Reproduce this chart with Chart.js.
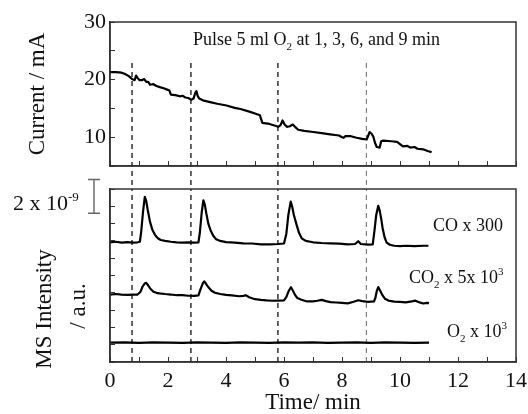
<!DOCTYPE html>
<html>
<head>
<meta charset="utf-8">
<script src="https://cdn.jsdelivr.net/npm/chart.js@4.4.1/dist/chart.umd.min.js"></script>
<style>
  body { margin: 0; background: #fff; }
  #wrap { position: relative; width: 528px; height: 414px; background: #fff; }
  canvas { position: absolute; left: 0; top: 0; }
</style>
</head>
<body>
<div id="wrap">
  <canvas id="topChart" width="528" height="414"></canvas>
  <canvas id="botChart" width="528" height="414"></canvas>
</div>
<script>
// Current trace (top panel), minutes / mA
const curTime = [0, 0.2, 0.4, 0.5, 0.65, 0.76, 0.85, 0.9, 0.95, 1.02, 1.1, 1.18, 1.25, 1.32, 1.38, 1.5, 1.6, 1.72, 1.85, 1.95, 2.05, 2.1, 2.25, 2.41, 2.5, 2.6, 2.7, 2.8, 2.88, 2.94, 2.98, 3.02, 3.08, 3.2, 3.45, 3.7, 4.02, 4.3, 4.5, 4.83, 5.0, 5.17, 5.22, 5.25, 5.5, 5.7, 5.8, 5.88, 5.95, 6.02, 6.1, 6.2, 6.3, 6.38, 6.49, 6.7, 7.01, 7.3, 7.59, 7.9, 8.0, 8.06, 8.12, 8.28, 8.5, 8.7, 8.85, 8.9, 8.95, 9.02, 9.08, 9.14, 9.2, 9.3, 9.35, 9.42, 9.7, 9.9, 10.0, 10.1, 10.25, 10.35, 10.5, 10.6, 10.8, 10.95, 11.09];
const curVal = [21.3, 21.3, 21.2, 21.0, 20.6, 20.1, 19.9, 20.7, 20.3, 19.9, 19.9, 20.1, 19.6, 19.6, 19.1, 19.2, 18.9, 18.7, 18.5, 18.3, 18.1, 17.4, 17.3, 17.1, 17.2, 16.9, 16.8, 16.5, 16.7, 17.7, 18.0, 17.2, 16.7, 16.4, 16.1, 15.8, 15.5, 15.1, 14.9, 14.4, 14.1, 13.8, 13.0, 12.5, 12.3, 12.0, 11.8, 12.1, 12.9, 12.2, 11.8, 11.9, 12.2, 11.8, 11.3, 11.1, 10.9, 10.7, 10.5, 10.3, 10.0, 9.9, 10.2, 10.2, 9.9, 9.7, 9.6, 10.2, 10.9, 10.6, 10.1, 9.0, 8.3, 8.2, 9.3, 9.4, 9.3, 9.2, 8.8, 8.4, 8.5, 8.2, 8.3, 8.0, 7.9, 7.6, 7.4];

// MS traces (bottom panel), arbitrary offset units
const coTime = [0, 0.2, 0.4, 0.6, 0.8, 0.95, 1.03, 1.08, 1.14, 1.2, 1.25, 1.3, 1.38, 1.46, 1.55, 1.65, 1.75, 1.9, 2.1, 2.3, 2.5, 2.7, 2.9, 3.05, 3.1, 3.16, 3.22, 3.27, 3.32, 3.39, 3.47, 3.56, 3.66, 3.8, 4.0, 4.3, 4.6, 4.9, 5.2, 5.5, 5.8, 6.0, 6.08, 6.15, 6.23, 6.28, 6.34, 6.44, 6.52, 6.61, 6.75, 7.0, 7.3, 7.6, 7.9, 8.2, 8.45, 8.56, 8.65, 8.9, 9.06, 9.12, 9.18, 9.25, 9.3, 9.35, 9.4, 9.47, 9.54, 9.65, 9.8, 10.0, 10.2, 10.5, 10.8, 10.98];
const coVal = [6.92, 6.95, 6.9, 6.93, 6.9, 6.92, 6.95, 7.6, 8.7, 9.55, 9.3, 8.8, 8.1, 7.65, 7.35, 7.15, 7.05, 7.0, 6.95, 6.92, 6.9, 6.92, 6.9, 6.92, 7.5, 8.6, 9.35, 9.1, 8.6, 8.0, 7.6, 7.3, 7.1, 7.0, 6.93, 6.9, 6.86, 6.85, 6.8, 6.8, 6.82, 6.85, 7.4, 8.5, 9.27, 9.0, 8.5, 7.9, 7.45, 7.15, 7.0, 6.92, 6.88, 6.86, 6.84, 6.8, 6.82, 6.98, 6.82, 6.78, 6.8, 7.6, 8.5, 9.03, 8.75, 8.3, 7.75, 7.2, 6.9, 6.78, 6.72, 6.7, 6.72, 6.7, 6.72, 6.72];

const co2Time = [0, 0.2, 0.4, 0.6, 0.8, 0.95, 1.05, 1.12, 1.2, 1.25, 1.32, 1.4, 1.5, 1.6, 1.7, 1.9, 2.1, 2.3, 2.5, 2.7, 2.9, 3.05, 3.12, 3.2, 3.25, 3.3, 3.38, 3.5, 3.62, 3.8, 4.0, 4.2, 4.45, 4.6, 4.68, 4.8, 5.0, 5.2, 5.4, 5.6, 5.8, 6.0, 6.08, 6.16, 6.24, 6.3, 6.38, 6.46, 6.6, 6.8, 7.0, 7.15, 7.3, 7.45, 7.6, 7.8, 8.0, 8.2, 8.4, 8.56, 8.7, 8.9, 9.1, 9.15, 9.2, 9.25, 9.32, 9.4, 9.48, 9.6, 9.8, 10.0, 10.2, 10.4, 10.52, 10.65, 10.8, 10.92, 11.0];
const co2Val = [3.9, 3.93, 3.9, 3.88, 3.9, 3.9, 4.05, 4.35, 4.55, 4.57, 4.42, 4.22, 4.06, 4.0, 3.97, 3.93, 3.9, 3.86, 3.87, 3.83, 3.82, 3.85, 4.2, 4.55, 4.66, 4.55, 4.35, 4.12, 4.0, 3.93, 3.88, 3.85, 3.8, 3.82, 3.86, 3.74, 3.63, 3.59, 3.56, 3.54, 3.55, 3.56, 3.75, 4.1, 4.32, 4.15, 3.88, 3.7, 3.6, 3.5, 3.5, 3.54, 3.59, 3.52, 3.46, 3.44, 3.42, 3.39, 3.48, 3.57, 3.52, 3.48, 3.5, 3.7, 4.1, 4.33, 4.1, 3.85, 3.66, 3.55, 3.49, 3.47, 3.45, 3.5, 3.55, 3.46, 3.38, 3.42, 3.4];

const o2Time = [0, 0.5, 1, 1.5, 2, 2.5, 3, 3.5, 4, 4.5, 5, 5.5, 6, 6.5, 7, 7.5, 8, 8.5, 9, 9.5, 10, 10.5, 11];
const o2Val = [1.12, 1.14, 1.11, 1.13, 1.12, 1.1, 1.14, 1.12, 1.11, 1.13, 1.12, 1.1, 1.13, 1.12, 1.14, 1.11, 1.12, 1.13, 1.11, 1.13, 1.12, 1.11, 1.12];

// O2 pulse markers
const pulseTimes = [0.76, 2.79, 5.79, 8.84];
const pulseTop = 22.9;   // mA scale, where the dashes start
const pulseGap = 1.0;    // mA scale, reaches into the lower panel

// 2 x 10^-9 scale bar, in lower panel units
const barFrom = 8.6;
const barTo = 10.55;

const serif = "'Liberation Serif', 'Times New Roman', serif";
const ink = '#111';

function pts(xs, ys) {
  return xs.map((x, i) => ({ x: x, y: ys[i] }));
}

function trace(xs, ys) {
  return { data: pts(xs, ys), borderColor: '#000', borderWidth: 2.2, pointRadius: 0, tension: 0, borderJoinStyle: 'round' };
}

function pulseSets(y0, y1) {
  return pulseTimes.map((t, i) => ({
    data: [{ x: t, y: y0 }, { x: t, y: y1 }],
    borderColor: i === 3 ? '#666' : '#222',
    borderWidth: i === 3 ? 1 : 1.4,
    borderDash: [5, 4],
    pointRadius: 0,
    clip: false
  }));
}

// keep the plot box fixed: no extra room for end labels
function noPad(s) {
  s.paddingLeft = 0;
  s.paddingRight = 0;
  s.paddingTop = 0;
  s.paddingBottom = 0;
}

// text with sub/superscripts, parts: [text, shift] (1 sup, -1 sub)
function richText(ctx, parts, x, y, size) {
  ctx.textAlign = 'left';
  ctx.textBaseline = 'alphabetic';
  ctx.fillStyle = ink;
  for (const [txt, s] of parts) {
    const fs = s ? Math.round(size * 0.6) : size;
    ctx.font = fs + 'px ' + serif;
    const dy = s === 1 ? -size * 0.42 : s === -1 ? size * 0.25 : 0;
    ctx.fillText(txt, x, y + dy);
    x += ctx.measureText(txt).width;
  }
}

const frame = {
  id: 'frame',
  afterDatasetsDraw(chart) {
    const a = chart.chartArea, ctx = chart.ctx;
    ctx.save();
    ctx.strokeStyle = '#333';
    ctx.lineWidth = 1.5;
    ctx.strokeRect(a.left, a.top, a.right - a.left, a.bottom - a.top);
    ctx.restore();
  }
};

const topNotes = {
  id: 'topNotes',
  afterDraw(chart) {
    const ctx = chart.ctx;
    ctx.save();
    richText(ctx, [['Pulse 5 ml O', 0], ['2', -1], [' at 1, 3, 6, and 9 min', 0]], 193, 45, 18);
    ctx.restore();
  }
};

const botNotes = {
  id: 'botNotes',
  afterDraw(chart) {
    const ctx = chart.ctx;
    const y = chart.scales.y;
    ctx.save();
    richText(ctx, [['CO x 300', 0]], 433, 231, 18);
    richText(ctx, [['CO', 0], ['2', -1], [' x 5x 10', 0], ['3', 1]], 409, 283, 18);
    richText(ctx, [['O', 0], ['2', -1], [' x 10', 0], ['3', 1]], 447, 337, 18);
    richText(ctx, [['2 x 10', 0], ['-9', 1]], 13, 210, 22);

    // scale bar
    const yb = y.getPixelForValue(barFrom), yt = y.getPixelForValue(barTo);
    ctx.strokeStyle = '#666';
    ctx.lineWidth = 1.4;
    ctx.beginPath();
    ctx.moveTo(94, yt); ctx.lineTo(94, yb);
    ctx.moveTo(88, yt); ctx.lineTo(100, yt);
    ctx.moveTo(88, yb); ctx.lineTo(100, yb);
    ctx.stroke();

    // axis title, two lines
    ctx.fillStyle = ink;
    ctx.font = '23px ' + serif;
    ctx.textAlign = 'center';
    ctx.textBaseline = 'middle';
    ctx.translate(45, 309);
    ctx.rotate(-Math.PI / 2);
    ctx.fillText('MS Intensity', 0, 0);
    ctx.fillText('/ a.u.', 3, 34);
    ctx.restore();
  }
};

const tickFont = { family: serif, size: 22 };
const titleFont = { family: serif, size: 23, lineHeight: 1 };

new Chart(document.getElementById('topChart'), {
  type: 'line',
  data: { datasets: [trace(curTime, curVal)].concat(pulseSets(pulseTop, pulseGap)) },
  options: {
    responsive: false,
    animation: false,
    layout: { padding: { left: 0, top: 22, right: 12, bottom: 248 } },
    plugins: { legend: { display: false }, tooltip: { enabled: false } },
    scales: {
      x: {
        type: 'linear', min: 0, max: 14,
        ticks: { stepSize: 1, display: false },
        grid: { drawOnChartArea: false, tickLength: -5, color: '#333' },
        border: { color: '#333', width: 1.5 },
        afterFit: s => { s.height = 0; noPad(s); }
      },
      y: {
        min: 5, max: 30,
        ticks: { stepSize: 5, autoSkip: false, padding: 9, color: ink, font: tickFont, callback: v => (v % 10 === 0 ? v : '') },
        grid: { drawOnChartArea: false, tickLength: -5, color: '#333' },
        border: { color: '#333', width: 1.5 },
        title: { display: true, text: 'Current / mA', color: ink, font: titleFont, padding: { top: 26, bottom: 0 } },
        afterFit: s => { s.width = 110; noPad(s); }
      }
    }
  },
  plugins: [frame, topNotes]
});

new Chart(document.getElementById('botChart'), {
  type: 'line',
  data: {
    datasets: [trace(coTime, coVal), trace(co2Time, co2Val), trace(o2Time, o2Val)].concat(pulseSets(0, 10))
  },
  options: {
    responsive: false,
    animation: false,
    layout: { padding: { left: 0, top: 189, right: 12, bottom: 0 } },
    plugins: { legend: { display: false }, tooltip: { enabled: false } },
    scales: {
      x: {
        type: 'linear', min: 0, max: 14,
        ticks: { stepSize: 1, autoSkip: false, maxRotation: 0, padding: 11, color: ink, font: tickFont, callback: v => (v % 2 === 0 ? v : '') },
        grid: { drawOnChartArea: false, tickLength: -5, color: '#333' },
        border: { color: '#333', width: 1.5 },
        title: { display: true, text: 'Time/ min', color: ink, font: titleFont, padding: { top: 0, bottom: 0 } },
        afterFit: s => { s.height = 52; noPad(s); }
      },
      y: {
        min: 0, max: 10,
        ticks: { stepSize: 1, autoSkip: false, display: false },
        grid: { drawOnChartArea: false, tickLength: -5, color: '#333' },
        border: { color: '#333', width: 1.5 },
        afterFit: s => { s.width = 110; noPad(s); }
      }
    }
  },
  plugins: [frame, botNotes]
});
</script>
</body>
</html>
